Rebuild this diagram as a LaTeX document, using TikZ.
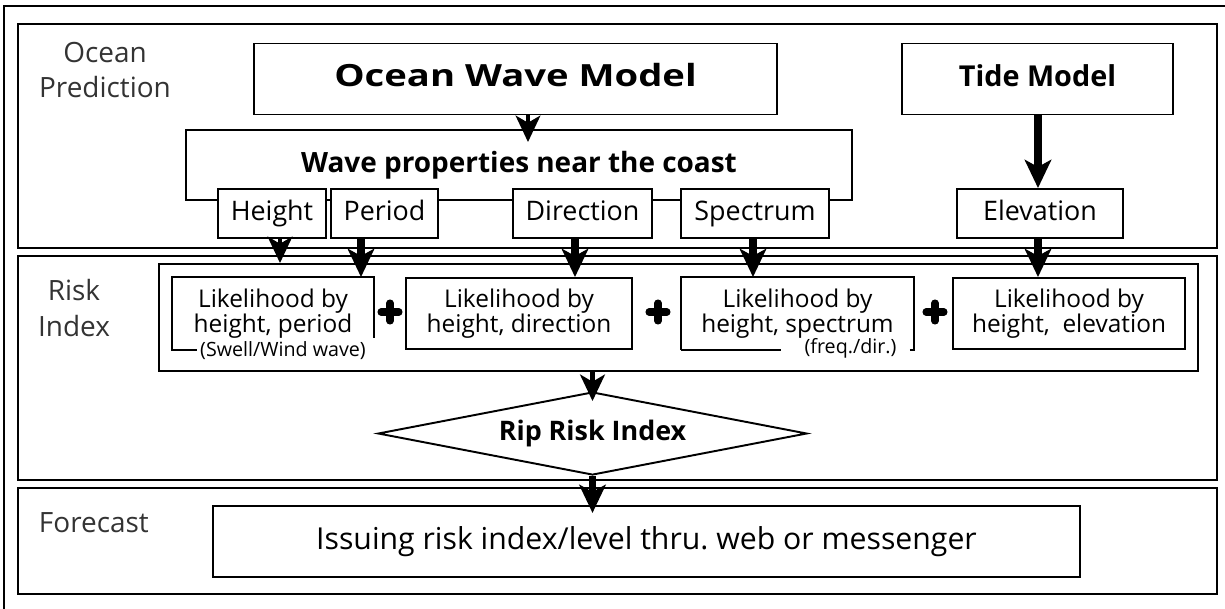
\documentclass[tikz,border=0pt]{standalone}
\usepackage{fontspec}
\setmainfont{Open Sans}
\newfontfamily\widefont{Open Sans}[FakeStretch=1.25]
\usetikzlibrary{arrows.meta}
\usetikzlibrary{calc}
\usetikzlibrary{fit}
\usetikzlibrary{shapes.geometric}

\begin{document}
\begin{tikzpicture}[x=0.02cm, y=-0.02cm, line width=1.1pt,
    every node/.style={inner sep=0pt},
    panel/.style={draw},
    tbox/.style={draw, fill=white, minimum height=1.42cm, text height=12pt, text depth=3pt, font=\bfseries\fontsize{16.4}{19}\selectfont},
    sbox/.style={draw, fill=white, minimum height=0.98cm, text height=11pt, text depth=3pt, font=\fontsize{15.3}{18}\selectfont},
    lbox/.style={align=center, minimum height=1.42cm, font=\fontsize{13.9}{14}\selectfont},
    note/.style={fill=white, inner xsep=1pt, font=\fontsize{11.2}{13}\selectfont},
    side/.style={align=center, text=black!80, font=\fontsize{15.9}{20.4}\selectfont},
    arr/.style={-{Stealth[length=16pt, width=15pt, inset=4pt]}, line width=4pt},
    thinarr/.style={-{Stealth[length=15pt, width=14pt, inset=4pt]}, line width=2.3pt},
    plus/.style={line width=4pt, line cap=round}]
    \useasboundingbox (0,0) rectangle (1225,609);
    % outer frame and the three bands
    \draw (4,609) |- (1225,6);
    \node[panel, fit={(18,24) (1217,248)}] (pred) {};
    \node[panel, fit={(18,256) (1217,480)}] (risk) {};
    \node[panel, fit={(18,488) (1217,594)}] (fcst) {};
    
    \node[side] (predlbl) at (105,70) {Ocean\\Prediction};
    \node[side] (risklbl) at (74,308) {Risk\\Index};
    \node[side, anchor=west] (fcstlbl) at (38,523) {Forecast};
    
    % models
    \node[tbox, minimum width=10.46cm, font=\widefont\bfseries\fontsize{17.4}{20}\selectfont] (owm) at (515.5,79) {Ocean Wave Model};
    \node[tbox, minimum width=5.42cm] (tide) at (1037.5,79) {Tide Model};
    \node[tbox, minimum width=13.32cm, minimum height=1.4cm, font=\bfseries\fontsize{15.9}{19}\selectfont] (wp) at (519,165) {Wave properties near the coast};
    
    \node[sbox, minimum width=2.16cm] (hgt) at (272,213.5) {Height};
    \node[sbox, minimum width=2.14cm] (per) at (384.5,213.5) {Period};
    \node[sbox, minimum width=2.78cm] (dir) at (582.5,213.5) {Direction};
    \node[sbox, minimum width=2.96cm] (spc) at (755,213.5) {Spectrum};
    \node[sbox, minimum width=3.32cm] (elv) at (1040,213.5) {Elevation};
    
    % likelihood terms
    \node[draw, fit={(159,264) (1198,371)}] (lk) {};
    \node[lbox, minimum width=4cm] (l1) at (273,313.5) {Likelihood by\\height, period};
    \node[lbox, draw, minimum width=4.52cm] (l2) at (519,313.5) {Likelihood by\\height, direction};
    \node[lbox, minimum width=4.62cm] (l3) at (797.5,313.5) {Likelihood by\\height, spectrum};
    \node[lbox, draw, minimum width=4.64cm] (l4) at (1069,313.5) {Likelihood by\\height,\ \ elevation};
    
    \draw ($(l1.south east)+(0,-12)$) |- (l1.north west) -- (l1.south west) -- ++(25,0);
    \node[note] (swl) at ($(l1.south)+(10,1)$) {(Swell/Wind wave)};
    \draw (l3.south west) -- ++(100,0);
    \draw ($(l3.south east)+(-4,0)$) -- (l3.south east) |- (l3.north west) -- (l3.south west);
    \node[note] (frq) at ($(l3.south)+(53,-2)$) {(freq./dir.)};
    
    \foreach \x in {390,658,935}
        \draw[plus] (\x-9,312) -- (\x+9,312) (\x,303) -- (\x,321);
    
    \node[draw, diamond, aspect=5.17, minimum width=8.58cm, minimum height=1.66cm,
        font=\bfseries\fontsize{15.3}{18}\selectfont] (rri) at (592.5,433.5) {Rip Risk Index};
    
    \node[draw, minimum width=17.34cm, minimum height=1.42cm, font=\fontsize{17.2}{20}\selectfont] (iss) at (646.5,541.5) {Issuing risk index/level thru.\ web or messenger};
    
    % connectors
    \draw[thinarr, shorten >=-7.4pt] (owm.south -| 528,0) -- (wp.north -| 528,0);
    \draw[arr] (tide.south -| 1038,0) -- (elv.north -| 1038,0);
    \draw[thinarr] (hgt.south -| 280,0) -- (lk.north -| 280,0);
    \draw[arr] (per.south -| 361,0) -- (l1.north -| 361,0);
    \draw[arr] (dir.south -| 575,0) -- (l2.north -| 575,0);
    \draw[arr] (spc.south -| 753,0) -- (l3.north -| 753,0);
    \draw[arr] (elv.south -| 1038,0) -- (l4.north -| 1038,0);
    \draw[thinarr, line width=2.8pt, shorten >=-5.7pt] (lk.south -| rri.north) -- (rri.north);
    \draw[arr, shorten >=-4.5pt] (rri.south) -- (iss.north -| rri.south);
\end{tikzpicture}
\end{document}
